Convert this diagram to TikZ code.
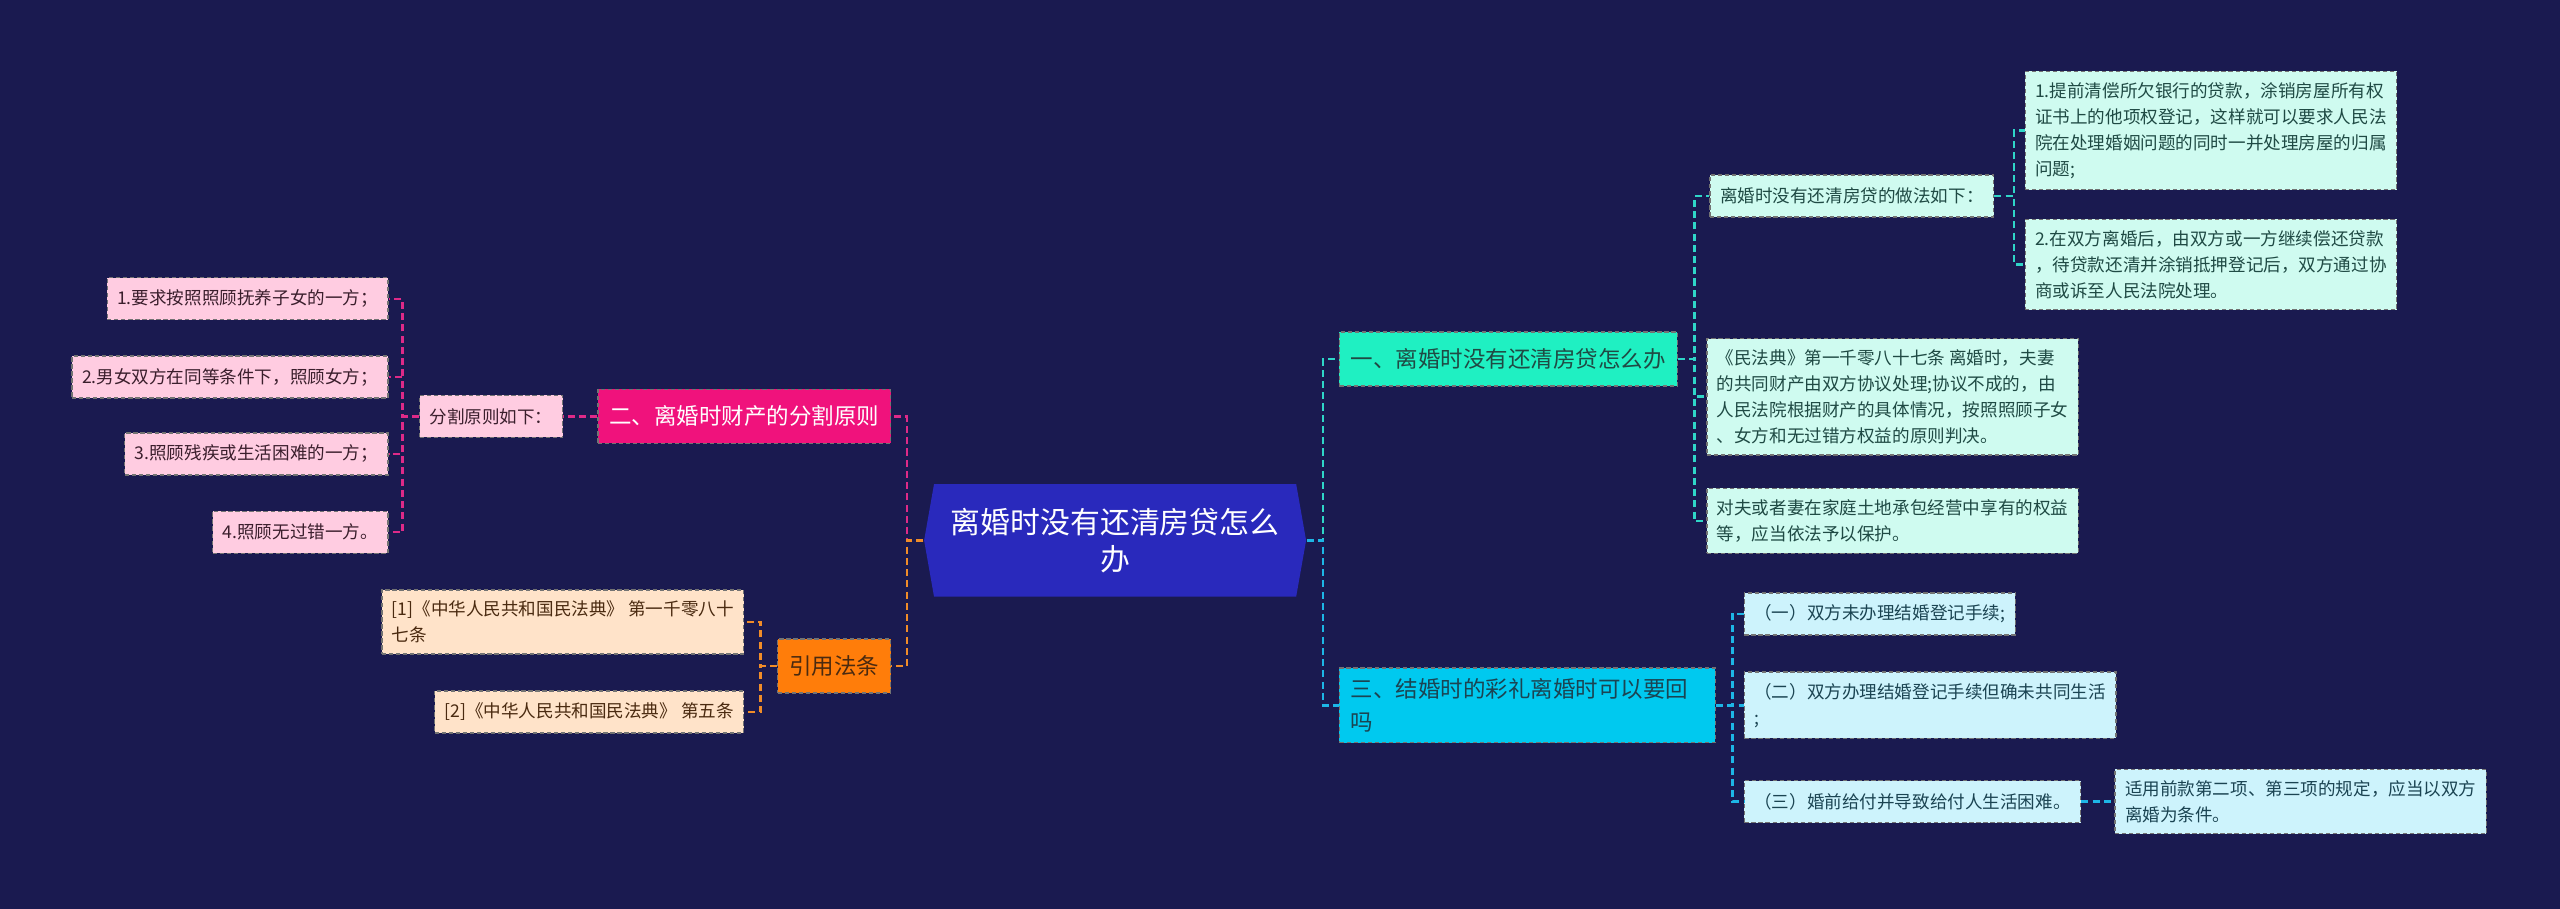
\documentclass[tikz,border=0pt]{standalone}
\usepackage{fontspec}
\setmainfont{Noto Sans CJK SC}
\usetikzlibrary{shapes.symbols}

\definecolor{bgnavy}{HTML}{1A1A50}
\definecolor{rootblue}{HTML}{2929BC}
\definecolor{tealfill}{HTML}{1FF0C2}
\definecolor{tealleaf}{HTML}{CFFBF0}
\definecolor{tealline}{HTML}{2FD6C8}
\definecolor{tealtext}{HTML}{1F4A44}
\definecolor{cyanfill}{HTML}{00C9EF}
\definecolor{cyanleaf}{HTML}{CDF3FC}
\definecolor{cyanline}{HTML}{1DB6E6}
\definecolor{cyantext}{HTML}{1B4452}
\definecolor{pinkfill}{HTML}{F0127C}
\definecolor{pinkleaf}{HTML}{FFCCE1}
\definecolor{pinkline}{HTML}{DE2A88}
\definecolor{pinktext}{HTML}{3A1E2C}
\definecolor{orangefill}{HTML}{FF7D0A}
\definecolor{orangeleaf}{HTML}{FFE3C9}
\definecolor{orangeline}{HTML}{F08C28}
\definecolor{orangetext}{HTML}{4A2A10}

\begin{document}
\begin{tikzpicture}[x=0.016327cm, y=-0.016327cm,
    box/.style={draw=black!55, dash pattern=on 1.2pt off 0.8pt, line width=0.4pt, align=left},
    root node/.style={shape=signal, signal to=west and east, signal pointer angle=160,
        fill=rootblue, text=white, font=\fontsize{8.5}{10.6}\selectfont, align=center,
        minimum width=3.82cm, minimum height=1.127cm, inner sep=0.1cm},
    topic node/.style={box, font=\fontsize{6.4}{9.6}\selectfont, inner xsep=0.115cm,
        inner ysep=0.1cm, minimum height=0.54cm},
    leaf node/.style={box, font=\fontsize{5}{7.4}\selectfont, inner xsep=0.1cm,
        inner ysep=0.11cm, minimum height=0.42cm},
    link/.style={dash pattern=on 2pt off 1.2pt, line width=0.7pt}]
    \fill[bgnavy] (0,0) rectangle (1568,556.77);

    \node[root node] (root) at (683,331) {离婚时没有还清房贷怎么\\办};

    \node[topic node, fill=tealfill, text=tealtext, anchor=west] (loan) at (820,220) {一、离婚时没有还清房贷怎么办};
    \node[topic node, fill=cyanfill, text=cyantext, anchor=west, text width=3.53cm] (gift) at (820,432) {三、结婚时的彩礼离婚时可以要回\\吗};
    \node[topic node, fill=pinkfill, text=white, anchor=east] (split) at (546,255) {二、离婚时财产的分割原则};
    \node[topic node, fill=orangefill, text=orangetext, anchor=east] (law) at (546,408) {引用法条};

    \node[leaf node, fill=tealleaf, text=tealtext, anchor=west] (way) at (1047,120) {离婚时没有还清房贷的做法如下：};
    \node[leaf node, fill=tealleaf, text=tealtext, anchor=west] (wayone) at (1240,80) {1.提前清偿所欠银行的贷款，涂销房屋所有权\\证书上的他项权登记，这样就可以要求人民法\\院在处理婚姻问题的同时一并处理房屋的归属\\问题;};
    \node[leaf node, fill=tealleaf, text=tealtext, anchor=west] (waytwo) at (1240,162) {2.在双方离婚后，由双方或一方继续偿还贷款\\，待贷款还清并涂销抵押登记后，双方通过协\\商或诉至人民法院处理。};
    \node[leaf node, fill=tealleaf, text=tealtext, anchor=west] (civil) at (1045,243) {《民法典》第一千零八十七条 离婚时，夫妻\\的共同财产由双方协议处理;协议不成的，由\\人民法院根据财产的具体情况，按照照顾子女\\、女方和无过错方权益的原则判决。};
    \node[leaf node, fill=tealleaf, text=tealtext, anchor=west] (land) at (1045,319) {对夫或者妻在家庭土地承包经营中享有的权益\\等，应当依法予以保护。};

    \node[leaf node, fill=cyanleaf, text=cyantext, anchor=west] (giftone) at (1068,376) {（一）双方未办理结婚登记手续;};
    \node[leaf node, fill=cyanleaf, text=cyantext, anchor=west] (gifttwo) at (1068,432) {（二）双方办理结婚登记手续但确未共同生活\\;};
    \node[leaf node, fill=cyanleaf, text=cyantext, anchor=west] (giftthree) at (1068,491) {（三）婚前给付并导致给付人生活困难。};
    \node[leaf node, fill=cyanleaf, text=cyantext, anchor=west] (giftnote) at (1295,491) {适用前款第二项、第三项的规定，应当以双方\\离婚为条件。};

    \node[leaf node, fill=pinkleaf, text=pinktext, anchor=east] (rule) at (345,255) {分割原则如下：};
    \node[leaf node, fill=pinkleaf, text=pinktext, anchor=east] (ruleone) at (238,183) {1.要求按照照顾抚养子女的一方；};
    \node[leaf node, fill=pinkleaf, text=pinktext, anchor=east] (ruletwo) at (238,231) {2.男女双方在同等条件下，照顾女方；};
    \node[leaf node, fill=pinkleaf, text=pinktext, anchor=east] (rulethree) at (238,278) {3.照顾残疾或生活困难的一方；};
    \node[leaf node, fill=pinkleaf, text=pinktext, anchor=east] (rulefour) at (238,326) {4.照顾无过错一方。};

    \node[leaf node, fill=orangeleaf, text=orangetext, anchor=east] (lawone) at (456,381) {[1]《中华人民共和国民法典》 第一千零八十\\七条};
    \node[leaf node, fill=orangeleaf, text=orangetext, anchor=east] (lawtwo) at (456,436) {[2]《中华人民共和国民法典》 第五条};

    \draw[link, tealline] (root.east) -- ++(10,0) |- (loan.west);
    \draw[link, cyanline] (root.east) -- ++(10,0) |- (gift.west);
    \draw[link, pinkline] (root.west) -- ++(-10,0) |- (split.east);
    \draw[link, orangeline] (root.west) -- ++(-10,0) |- (law.east);

    \draw[link, tealline] (loan.east) -- ++(10,0) |- (way.west);
    \draw[link, tealline] (loan.east) -- ++(10,0) |- (civil.west);
    \draw[link, tealline] (loan.east) -- ++(10,0) |- (land.west);
    \draw[link, tealline] (way.east) -- ++(12,0) |- (wayone.west);
    \draw[link, tealline] (way.east) -- ++(12,0) |- (waytwo.west);

    \draw[link, cyanline] (gift.east) -- ++(10,0) |- (giftone.west);
    \draw[link, cyanline] (gift.east) -- ++(10,0) |- (gifttwo.west);
    \draw[link, cyanline] (gift.east) -- ++(10,0) |- (giftthree.west);
    \draw[link, cyanline] (giftthree.east) -- (giftnote.west);

    \draw[link, pinkline] (split.west) -- (rule.east);
    \draw[link, pinkline] (rule.west) -- ++(-10,0) |- (ruleone.east);
    \draw[link, pinkline] (rule.west) -- ++(-10,0) |- (ruletwo.east);
    \draw[link, pinkline] (rule.west) -- ++(-10,0) |- (rulethree.east);
    \draw[link, pinkline] (rule.west) -- ++(-10,0) |- (rulefour.east);

    \draw[link, orangeline] (law.west) -- ++(-10,0) |- (lawone.east);
    \draw[link, orangeline] (law.west) -- ++(-10,0) |- (lawtwo.east);
\end{tikzpicture}
\end{document}
